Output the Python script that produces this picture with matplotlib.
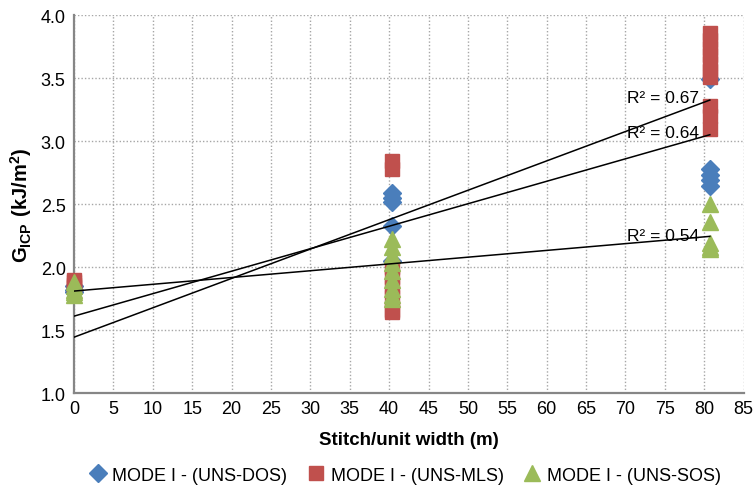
import matplotlib
matplotlib.use("Agg")
import matplotlib.pyplot as plt
import numpy as np

plt.rcParams['font.family'] = ['Liberation Sans', 'DejaVu Sans']
plt.rcParams['mathtext.fontset'] = 'custom'
plt.rcParams['mathtext.rm'] = 'Liberation Sans'
plt.rcParams['mathtext.bf'] = 'Liberation Sans:bold'

# stitch density positions (m)
x_none = 0.0
x_low = 40.35
x_high = 80.7

# MODE I - (UNS-DOS)
dos_x = [x_none] * 3 + [x_low] * 5 + [x_high] * 5
dos_y = [1.85, 1.82, 1.80,
         2.59, 2.55, 2.52, 2.33, 2.05,
         3.49, 2.78, 2.73, 2.69, 2.64]

# MODE I - (UNS-MLS)
mls_x = [x_none] * 4 + [x_low] * 8 + [x_high] * 10
mls_y = [1.90, 1.88, 1.86, 1.84,
         2.84, 2.78, 2.00, 1.92, 1.84, 1.76, 1.66, 1.64,
         3.86, 3.80, 3.74, 3.68, 3.62, 3.56, 3.51, 3.28, 3.20, 3.10]

# MODE I - (UNS-SOS)
sos_x = [x_none] * 5 + [x_low] * 9 + [x_high] * 5
sos_y = [1.88, 1.85, 1.82, 1.80, 1.78,
         2.22, 2.16, 2.10, 2.03, 1.97, 1.90, 1.83, 1.78, 1.75,
         2.50, 2.36, 2.19, 2.16, 2.14]

# linear trend lines
trend_intercept = [1.444, 1.611, 1.810]
trend_slope = [0.02332, 0.01784, 0.00538]
r2_labels = ['R² = 0.67', 'R² = 0.64', 'R² = 0.54']
r2_pos = [(70.2, 3.35), (70.2, 3.07), (70.2, 2.25)]

fig = plt.figure(figsize=(7.55, 4.89), dpi=100)
ax = fig.add_axes([0.098, 0.194, 0.887, 0.773])

ax.plot(dos_x, dos_y, linestyle='none', marker='D', markersize=9,
        color='#4a7ebb', label='MODE I - (UNS-DOS)', zorder=3, clip_on=False)
ax.plot(mls_x, mls_y, linestyle='none', marker='s', markersize=10,
        color='#c0504d', label='MODE I - (UNS-MLS)', zorder=3, clip_on=False)
ax.plot(sos_x, sos_y, linestyle='none', marker='^', markersize=11,
        color='#9bbb59', label='MODE I - (UNS-SOS)', zorder=3, clip_on=False)

xt = np.array([0, x_high])
for b, m in zip(trend_intercept, trend_slope):
    ax.plot(xt, b + m * xt, color='black', linewidth=1.1, zorder=4)
for lab, (px, py) in zip(r2_labels, r2_pos):
    ax.text(px, py, lab, fontsize=12.5, va='center', ha='left', zorder=5)

ax.set_xlim(0, 85)
ax.set_ylim(1.0, 4.0)
ax.set_xticks(np.arange(0, 86, 5))
ax.set_yticks(np.arange(1.0, 4.01, 0.5))
ax.yaxis.set_major_formatter(matplotlib.ticker.FormatStrFormatter('%.1f'))
ax.tick_params(axis='x', labelsize=13, length=0, pad=5)
ax.tick_params(axis='y', labelsize=13, length=0, pad=6)
ax.grid(True, color='#a6a6a6', linestyle=(0, (1, 1.5)), linewidth=1)
ax.set_axisbelow(True)

for s in ['top', 'right']:
    ax.spines[s].set_visible(False)
for s in ['left', 'bottom']:
    ax.spines[s].set_color('#868686')
    ax.spines[s].set_linewidth(1.6)

ax.set_xlabel('Stitch/unit width (m)', fontsize=13.5, fontweight='bold', labelpad=10)
ax.set_ylabel(r'$\mathbf{G_{ICP}\ (kJ/m^2)}$', fontsize=14.5, labelpad=5)

fig.legend(loc='center', bbox_to_anchor=(0.535, 0.026), ncol=3, frameon=False,
           fontsize=13, handletextpad=0.2, columnspacing=1.0, handlelength=1.2)

fig.savefig('out.png', dpi=100)
